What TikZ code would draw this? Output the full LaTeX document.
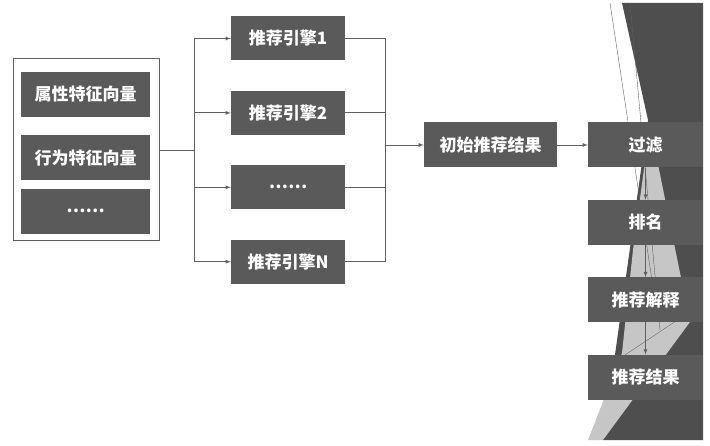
\documentclass[tikz,border=0pt]{standalone}
\usepackage{fontspec}
\newfontfamily\cjk{Noto Sans CJK SC}
\usetikzlibrary{arrows, positioning}
\definecolor{boxgray}{HTML}{5A5A5A}
\definecolor{bggray}{HTML}{4E4E4E}
\definecolor{wedgegray}{HTML}{C6C6C6}
\definecolor{linegray}{HTML}{5F5F5F}

\begin{document}
\begin{tikzpicture}[x=1pt, y=-1pt, >=latex,
    block/.style={rectangle, fill=boxgray, text=white, inner sep=0pt,
        font=\cjk\bfseries\fontsize{17}{17}\selectfont, minimum height=45pt},
    vec/.style={block, minimum width=129pt},
    engine/.style={block, minimum width=114pt, minimum height=44pt},
    stage/.style={block, minimum width=115pt},
    link/.style={draw=linegray, line width=0.8pt}]
        \useasboundingbox (0,0) rectangle (710,446);

        % background on the right
        \fill[bggray] (622,3) -- (703,3) -- (703,440) -- (603,440) -- (648,120) -- cycle;
        \fill[wedgegray] (650,125) -- (690,322) -- (603,440) -- (588,440)
            -- (622,353) -- (633,250) -- cycle;
        \draw[linegray, line width=0.4pt] (610,3) -- (655,300);
        \draw[linegray, line width=0.4pt] (630,3) -- (660,330);
        \draw[linegray, line width=0.4pt] (625,355) -- (685,315);

        \node[draw=linegray, line width=1pt, minimum width=146pt,
              minimum height=182pt] (c) at (86,150) {};

        \node[vec] (v_1) at (85.5,94.5) {属性特征向量};
        \node[vec] (v_2) [below=18pt of v_1] {行为特征向量};
        \node[vec] (v_3) [below=8pt of v_2] {……};

        \node[engine] (e_1) at (288,38.5) {推荐引擎1};
        \node[engine] (e_2) [below=30pt of e_1] {推荐引擎2};
        \node[engine] (e_3) [below=30pt of e_2] {……};
        \node[engine] (e_4) [below=30pt of e_3] {推荐引擎N};

        \node[block, minimum width=133pt] (init) at (490.5,145) {初始推荐结果};

        \node[stage] (s_1) at (645.5,145) {过滤};
        \node[stage] (s_2) [below=32pt of s_1] {排名};
        \node[stage] (s_3) [below=32pt of s_2] {推荐解释};
        \node[stage] (s_4) [below=32pt of s_3] {推荐结果};

        \coordinate (split) at (194,150);
        \coordinate (merge) at (385,145);

        \draw[link] (c.east) -- (split);
        \draw[link, ->] (split) |- (e_1);
        \draw[link, ->] (split) |- (e_2);
        \draw[link, ->] (split) |- (e_3);
        \draw[link, ->] (split) |- (e_4);

        \draw[link] (e_1) -| (merge);
        \draw[link] (e_2) -| (merge);
        \draw[link] (e_3) -| (merge);
        \draw[link] (e_4) -| (merge);

        \draw[link, ->] (merge) -- (init);
        \draw[link, ->] (init) -- (s_1);

        \draw[link, ->] (s_1) -- (s_2);
        \draw[link, ->] (s_2) -- (s_3);
        \draw[link, ->] (s_3) -- (s_4);

\end{tikzpicture}
\end{document}
